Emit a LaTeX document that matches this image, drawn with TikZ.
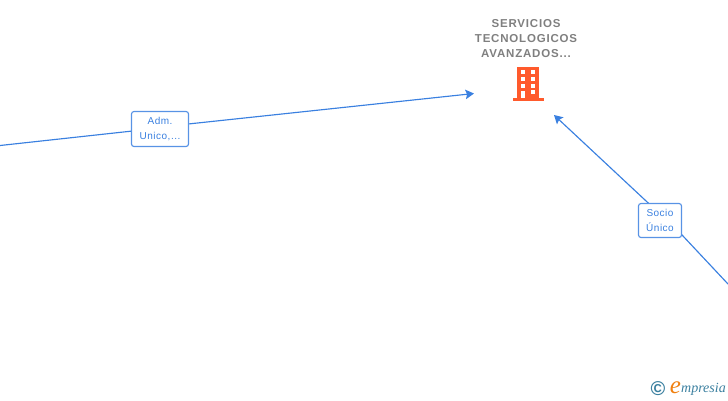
\documentclass[tikz,border=0pt]{standalone}
\usepackage{fontspec}
\setmainfont{Liberation Sans}
\newfontfamily\spacedfont[LetterSpace=7]{Liberation Sans}
\newfontfamily\rolefont[LetterSpace=5]{Liberation Sans}
\newfontfamily\logofont{Liberation Serif}
\usetikzlibrary{arrows.meta}
\definecolor{linkblue}{HTML}{3A80E0}
\definecolor{labelgrey}{HTML}{7F7F7F}
\definecolor{iconred}{HTML}{FF5A2C}
\definecolor{logoblue}{HTML}{3A7F9F}
\definecolor{logoorange}{HTML}{F08010}
\tikzset{
  linkline/.style={draw=linkblue,line width=1.15pt},
  linkarrow/.style={linkline,-{Stealth[length=8.5pt,width=9.5pt,inset=1.5pt]}},
  rolebox/.style={draw=linkblue!85,fill=white,rounded corners=2.5pt,line width=1.15pt,text=linkblue,font=\rolefont\fontsize{10}{15}\selectfont,align=center,inner sep=0pt},
  titlelabel/.style={text=labelgrey,font=\spacedfont\bfseries\fontsize{11.5}{15.3}\selectfont,align=center,inner sep=0pt},
  win/.style={fill=white,draw=none}
}
\begin{document}
\begin{tikzpicture}[x=1pt,y=-1pt]
\useasboundingbox (0,0) rectangle (728,400);
\coordinate (leftend) at (0,145.5);
\coordinate (rightend) at (728,284);
\coordinate (target1) at (474,93.5);
\coordinate (target2) at (554,115);
\coordinate (sociolow) at (660,211.5);
\coordinate (socioup) at (660,214);
\coordinate (admlow) at (160,128);
\coordinate (admup) at (160,127);
\draw[linkline] (leftend) -- (admlow);
\draw[linkarrow] (admup) -- (target1);
\draw[linkline] (rightend) -- (sociolow);
\draw[linkarrow] (socioup) -- (target2);
\node[rolebox,minimum width=57pt,minimum height=35pt] (adm) at (160,129) {Adm.\\Unico,...};
\node[rolebox,minimum width=43pt,minimum height=34pt] (socio) at (660,220.5) {Socio\\Único};
\node[titlelabel] (title) at (526,38.5) {SERVICIOS\\TECNOLOGICOS\\AVANZADOS...};
% building icon
\fill[iconred] (517.3,67) rectangle (539.3,98);
\fill[iconred] (512.5,98) rectangle (544,101);
\foreach \yy in {70.3,76.7,83.5}{
  \fill[win] (520.7,\yy) rectangle (525.3,\yy+4);
  \fill[win] (530.7,\yy) rectangle (535.3,\yy+4);
}
\fill[win] (520.7,91) rectangle (525.3,98);
\fill[win] (530.7,90.3) rectangle (535.3,94.3);
% logo
\node[text=logoblue,font=\bfseries\fontsize{20}{20}\selectfont,inner sep=0pt] (copyr) at (658,389) {\char"00A9};
\node[text=logoorange,font=\logofont\itshape\fontsize{25}{25}\selectfont,inner sep=0pt,anchor=base] (elogo) at (675.5,393.5) {e};
\node[text=logoblue,font=\logofont\itshape\fontsize{14}{14}\selectfont,inner sep=0pt,anchor=base west] (brand) at (681,392.7) {mpresia};
\end{tikzpicture}
\end{document}
